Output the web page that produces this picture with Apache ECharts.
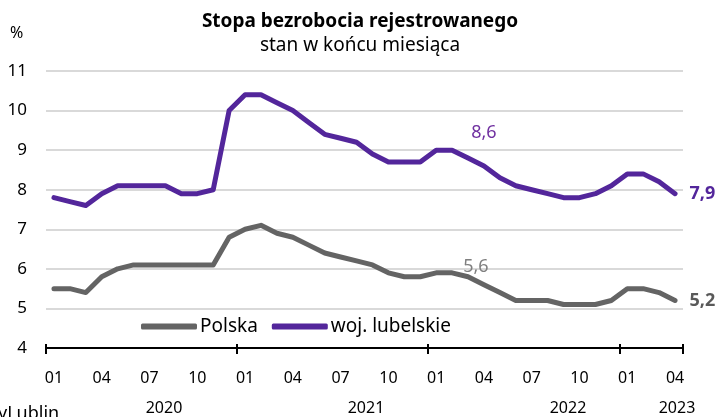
<!DOCTYPE html>
<html><head><meta charset="utf-8">
<script src="https://cdn.jsdelivr.net/npm/echarts@6/dist/echarts.min.js"></script>
<style>html,body{margin:0;padding:0;background:#fff}#c{width:720px;height:417px}</style>
</head><body><div id="c"></div>
<script>
const months = ['01','02','03','04','05','06','07','08','09','10','11','12',
  '01','02','03','04','05','06','07','08','09','10','11','12',
  '01','02','03','04','05','06','07','08','09','10','11','12',
  '01','02','03','04'];
const years = ['2020','2021','2022','2023'];
const polska = [5.5,5.5,5.4,5.8,6.0,6.1,6.1,6.1,6.1,6.1,6.1,6.8,
  7.0,7.1,6.9,6.8,6.6,6.4,6.3,6.2,6.1,5.9,5.8,5.8,
  5.9,5.9,5.8,5.6,5.4,5.2,5.2,5.2,5.1,5.1,5.1,5.2,
  5.5,5.5,5.4,5.2];
const lubelskie = [7.8,7.7,7.6,7.9,8.1,8.1,8.1,8.1,7.9,7.9,8.0,10.0,
  10.4,10.4,10.2,10.0,9.7,9.4,9.3,9.2,8.9,8.7,8.7,8.7,
  9.0,9.0,8.8,8.6,8.3,8.1,8.0,7.9,7.8,7.8,7.9,8.1,
  8.4,8.4,8.2,7.9];
const seriesNames = ['Polska','woj. lubelskie'];
const yMin = 4, yMax = 11, yStep = 1;

const FONT = 'Noto Sans';
const PURPLE = '#53269b', GRAY = '#646464';
const fmt = v => String(v).replace('.', ',');
const lastIdx = lubelskie.length - 1;
const annIdx = 27;

function mkData(arr, color, annColor, annDist, annOffset) {
  return arr.map((v, i) => {
    if (i === lastIdx) return {value: v, label: {show: true, position: 'right', distance: 14,
      formatter: p => fmt(p.value), fontWeight: 'bold', fontSize: 18, color: color, fontFamily: FONT}};
    if (i === annIdx) return {value: v, label: {show: true, position: 'top', distance: annDist, offset: annOffset,
      formatter: p => fmt(p.value), fontSize: 18, color: annColor, fontFamily: FONT}};
    return v;
  });
}

const chart = echarts.init(document.getElementById('c'));
chart.setOption({
  animation: false,
  textStyle: {fontFamily: FONT},
  title: {
    text: 'Stopa bezrobocia rejestrowanego',
    subtext: 'stan w końcu miesiąca',
    left: 'center', top: 7, itemGap: 5,
    textStyle: {fontSize: 19, fontWeight: 'bold', color: '#000', fontFamily: FONT},
    subtextStyle: {fontSize: 19, color: '#000', fontFamily: FONT}
  },
  legend: {
    data: seriesNames, left: 136, top: 312, icon: 'roundRect', itemWidth: 56, itemHeight: 6,
    itemGap: 14, textStyle: {fontSize: 19, color: '#000', fontFamily: FONT, padding: [0,0,0,-2]}
  },
  grid: {left: 46, right: 37, top: 71, bottom: 69},
  xAxis: [{
    type: 'category', data: months, boundaryGap: true,
    axisLine: {lineStyle: {color: '#000', width: 2}},
    axisTick: {show: true, length: 6, interval: (i) => i % 12 === 0, lineStyle: {color: '#000', width: 2}},
    axisLabel: {interval: 2, fontSize: 16, color: '#000', margin: 22, fontFamily: FONT}
  }, {
    type: 'category', data: months, boundaryGap: true, position: 'bottom',
    axisLine: {show: false},
    axisTick: {show: true, inside: true, length: 4, interval: (i) => i % 12 === 0, lineStyle: {color: '#000', width: 2}},
    axisLabel: {show: false}
  }],
  yAxis: {
    type: 'value', min: yMin, max: yMax, interval: yStep,
    axisLine: {show: false}, axisTick: {show: false},
    axisLabel: {fontSize: 17, color: '#000', margin: 19, fontFamily: FONT},
    splitLine: {lineStyle: {color: '#d9d9d9', width: 2}}
  },
  series: [{
    name: seriesNames[0], type: 'line', data: mkData(polska, '#595959', '#7f7f7f', 8, [-8, 0]),
    showSymbol: true, symbol: 'circle', symbolSize: 1, lineStyle: {color: GRAY, width: 5, cap: 'round', join: 'round'},
    itemStyle: {color: GRAY}, z: 3
  }, {
    name: seriesNames[1], type: 'line', data: mkData(lubelskie, PURPLE, '#7030a0', 24, [0, 0]),
    showSymbol: true, symbol: 'circle', symbolSize: 1, lineStyle: {color: PURPLE, width: 5, cap: 'round', join: 'round'},
    itemStyle: {color: PURPLE}, z: 4
  }],
  graphic: [
    {type: 'text', left: 10, top: 25, style: {text: '%', fontSize: 16, fill: '#000', fontFamily: FONT}},
    {type: 'text', x: 164, y: 408, style: {text: years[0], fontSize: 16, fill: '#000', fontFamily: FONT, align: 'center', verticalAlign: 'middle'}},
    {type: 'text', x: 366, y: 408, style: {text: years[1], fontSize: 16, fill: '#000', fontFamily: FONT, align: 'center', verticalAlign: 'middle'}},
    {type: 'text', x: 568, y: 408, style: {text: years[2], fontSize: 16, fill: '#000', fontFamily: FONT, align: 'center', verticalAlign: 'middle'}},
    {type: 'text', x: 677, y: 408, style: {text: years[3], fontSize: 16, fill: '#000', fontFamily: FONT, align: 'center', verticalAlign: 'middle'}},
    {type: 'text', x: -2, y: 414, style: {text: 'yLublin', fontSize: 18, fill: '#000', fontFamily: FONT, align: 'left', verticalAlign: 'middle'}}
  ]
});
</script></body></html>
